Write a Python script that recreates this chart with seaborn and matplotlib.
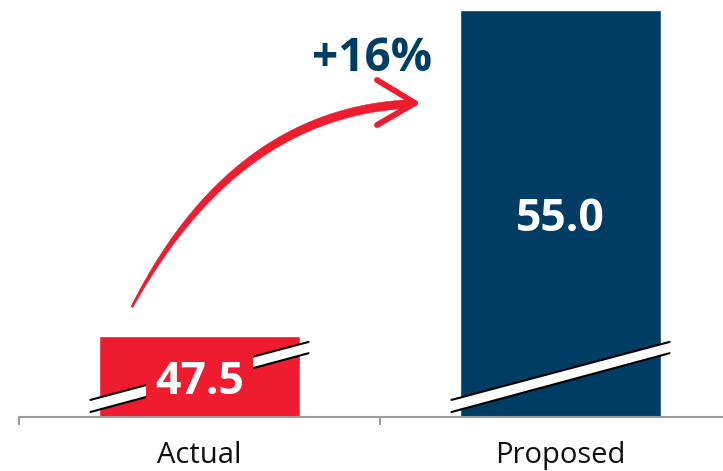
import numpy as np
import pandas as pd
import matplotlib
matplotlib.use("Agg")
import matplotlib.pyplot as plt
import matplotlib.transforms as mtransforms
from matplotlib.patches import Polygon
from matplotlib.lines import Line2D
import seaborn as sns

# Data
categories = ["Actual", "Proposed"]
values = [47.5, 55.0]
bar_colors = ["#ED1C2E", "#003D64"]

# Truncated value axis (the break band marks the cut)
y_floor = 45.64
y_top = 55.23

sns.set_theme(style="white")
plt.rcParams["font.family"] = ["Open Sans", "DejaVu Sans"]

W, H = 723, 471
fig = plt.figure(figsize=(W / 100, H / 100), dpi=100)
ax = fig.add_axes([0, 54 / H, 1, 417 / H])

df = pd.DataFrame({"category": categories, "value": values})
sns.barplot(data=df, x="category", y="value", hue="category",
            palette=bar_colors, width=0.557, saturation=1,
            legend=False, ax=ax, zorder=2)

# Group separators as major ticks, category names as minor tick labels
ax.set_xticks([-0.5, 0.5, 1.5])
ax.set_xticklabels([])
ax.set_xticks([0, 1], minor=True)
ax.set_xticklabels(categories, minor=True)
ax.tick_params(axis="x", which="major", bottom=True, length=6, width=1.4,
               color="#9A9A9A", direction="out")
ax.tick_params(axis="x", which="minor", bottom=True, labelbottom=True,
               length=0, pad=17, labelsize=21, labelcolor="#111111")
ax.set_yticks([])
ax.set_xlabel("")
ax.set_ylabel("")

ax.set_ylim(y_floor, y_top)
ax.set_xlim(-199.5 / 361, 1 + 162.5 / 361)

for side in ["left", "right", "top"]:
    ax.spines[side].set_visible(False)
ax.spines["bottom"].set_color("#9A9A9A")
ax.spines["bottom"].set_linewidth(1.5)
ax.spines["bottom"].set_bounds(-0.5, 1.5)

# Axis-break bands across each bar
blend = mtransforms.blended_transform_factory(ax.transData, ax.transAxes)
half = 0.302
for i in range(len(values)):
    xl, xr = i - half, i + half
    lower = ([xl, xr], [0.012, 0.153])
    upper = ([xl, xr], [0.041, 0.180])
    ax.add_patch(Polygon([(xl, 0.012), (xr, 0.153), (xr, 0.180), (xl, 0.041)],
                         closed=True, transform=blend, fc="white", ec="none",
                         zorder=4, clip_on=False))
    for xs, ys in (lower, upper):
        ax.add_line(Line2D(xs, ys, transform=blend, color="black", lw=1.5,
                           zorder=5, clip_on=False))

# Value labels, centred in the visible part of each bar
for i, (v, c) in enumerate(zip(values, bar_colors)):
    mid = (y_floor + v) / 2
    ax.text(i, mid, f"{v:.1f}", ha="center", va="center_baseline",
            color="white", fontsize=32, fontweight="bold", zorder=6,
            bbox=dict(boxstyle="square,pad=0.2", fc=c, ec="none"))

# Percentage change
pct = (values[1] - values[0]) / values[0] * 100
ax.text(0.478, 54.0, f"+{pct:.0f}%", ha="center", va="center_baseline",
        color=bar_colors[1], fontsize=33, fontweight="bold", zorder=6)

# Hand-drawn style curved arrow (built in pixel space, y downward)
red = bar_colors[0]
P0 = np.array([132.0, 307.0])
P1 = np.array([235.0, 112.0])
P2 = np.array([410.0, 104.0])
t = np.linspace(0, 1, 120)[:, None]
pts = (1 - t) ** 2 * P0 + 2 * (1 - t) * t * P1 + t ** 2 * P2
d = 2 * (1 - t) * (P1 - P0) + 2 * t * (P2 - P1)
nrm = np.column_stack([-d[:, 1], d[:, 0]]) / np.linalg.norm(d, axis=1)[:, None]
hw = (2.0 + 6.5 * (1 - (1 - t[:, 0]) ** 3)) / 2
poly = np.vstack([pts + nrm * hw[:, None], (pts - nrm * hw[:, None])[::-1]])
ax.add_patch(Polygon(np.column_stack([poly[:, 0] / W, 1 - poly[:, 1] / H]),
                     closed=True, transform=fig.transFigure, fc=red, ec=red,
                     lw=0.4, zorder=7, clip_on=False))
tip = (415, 103)
for arm in [(377, 80), (377, 125)]:
    ax.add_line(Line2D([arm[0] / W, tip[0] / W], [1 - arm[1] / H, 1 - tip[1] / H],
                       transform=fig.transFigure, color=red, lw=4.2,
                       solid_capstyle="round", zorder=7, clip_on=False))

fig.savefig("out.png", dpi=100, facecolor="white")
